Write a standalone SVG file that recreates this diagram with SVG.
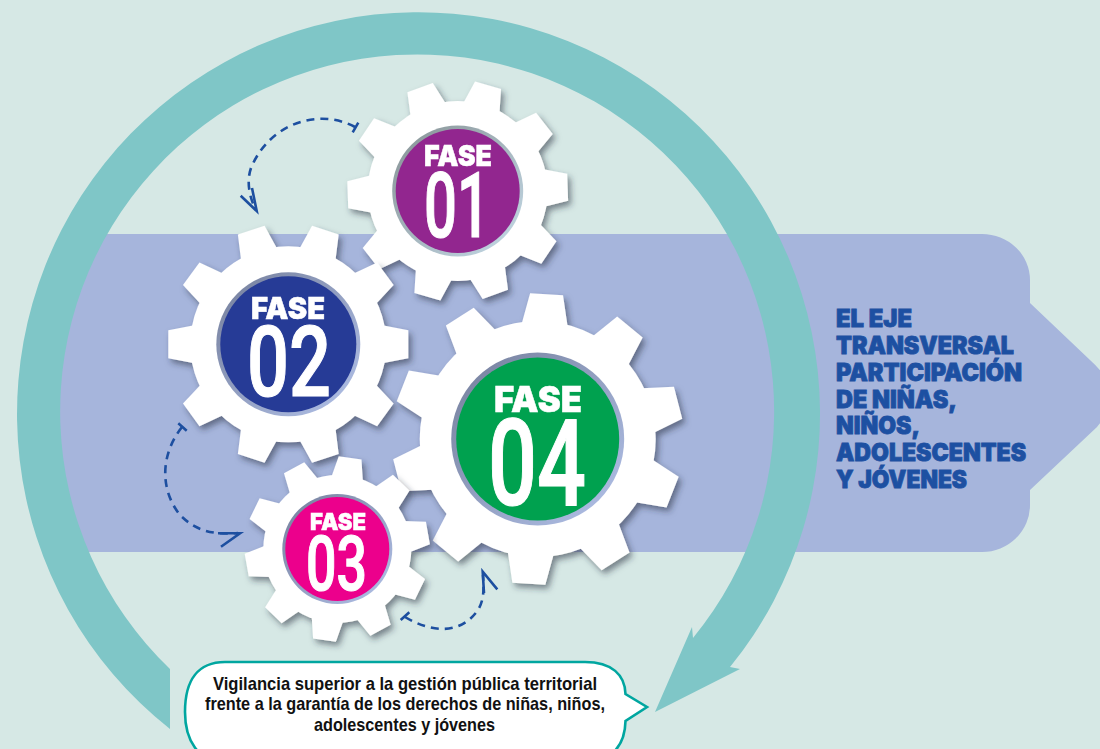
<svg xmlns="http://www.w3.org/2000/svg" width="1100" height="749" viewBox="0 0 1100 749">
<style>
.gear{fill:#fff}
.fase{font-family:Inter,"Liberation Sans",sans-serif;font-weight:900;fill:#fff;stroke:#fff;stroke-width:.5}
.num{font-family:Roboto,"Liberation Sans",sans-serif;font-weight:500;fill:#fff;stroke:#fff;stroke-width:1.2}
.eje{font-family:Inter,"Liberation Sans",sans-serif;font-weight:900;font-size:24px;fill:#1d50a2;stroke:#1d50a2;stroke-width:.8}
.call{font-family:"Liberation Sans",Arial,sans-serif;font-weight:700;font-size:18.5px;fill:#111}
.dash{fill:none;stroke:#1d4fa0;stroke-width:2.6;stroke-dasharray:8 6}
.solid{fill:none;stroke:#1d4fa0;stroke-width:2.6}
</style>
<defs>
<filter id="sh" x="-15%" y="-15%" width="135%" height="135%"><feDropShadow dx="3" dy="4" stdDeviation="3" flood-color="#2a3040" flood-opacity=".55"/></filter>
<linearGradient id="ringA" x1="0" y1="0" x2="1" y2="1"><stop offset="0.15" stop-color="#8f9ca0"/><stop offset="0.85" stop-color="#bcd0dc"/></linearGradient>
<linearGradient id="ringB" x1="0" y1="0" x2="1" y2="1"><stop offset="0.15" stop-color="#7d88a6"/><stop offset="0.85" stop-color="#a9b8de"/></linearGradient>
<path id="t1" class="gear" d="M-19 -85 L-13.5 -110 H13.5 L19 -85Z"/>
<path id="t2" class="gear" d="M-19 -94 L-14 -120 H14 L19 -94Z"/>
<path id="t3" class="gear" d="M-16 -70 L-11.5 -92 H11.5 L16 -70Z"/>
<path id="t4" class="gear" d="M-23 -114 L-16.5 -145 H16.5 L23 -114Z"/>
</defs>
<rect width="1100" height="749" fill="#d6e8e5"/>
<path id="band" fill="#a6b5dc" d="M62 234H982A48 46 0 0 1 1030 280V303L1090 360Q1110 378 1112 395Q1110 412 1097 427L1030 490V505A48 47 0 0 1 982 552H62L56 400Z"/>
<path id="ring" fill="#7fc6c7" d="M170 729A401.500 401.500 0 1 1 730 667L740 669L655 712L692 627L693 638A357 357 0 1 0 170 669Z"/>
<g id="connectors">
<path class="dash" d="M355 127C320 108 270 122 251 168C246 182 250 198 255 208"/>
<path class="solid" d="M352.7 132.3L358.3 122.7M240.7 195.7L256.7 211L252 188"/>
<path class="dash" d="M182 427C160 455 160 490 180 515C195 530 210 535 238 533"/>
<path class="solid" d="M178.3 423.3L186.700 430.700M218 533.3H240L221 546.7"/>
<path class="dash" d="M405 617C430 632 460 636 478 610C484 600 484 590 483 575"/>
<path class="solid" d="M400.700 620L409.300 612.300M484 593L482.700 571.700L497.300 589.300"/>
</g>
<g id="fase04" filter="url(#sh)">
<g transform="translate(537.7 439)"><circle class="gear" r="118"/>
<use href="#t4" transform="rotate(3.5)"/><use href="#t4" transform="rotate(39.5)"/><use href="#t4" transform="rotate(75.5)"/><use href="#t4" transform="rotate(111.5)"/><use href="#t4" transform="rotate(147.5)"/><use href="#t4" transform="rotate(183.5)"/><use href="#t4" transform="rotate(219.5)"/><use href="#t4" transform="rotate(255.5)"/><use href="#t4" transform="rotate(291.5)"/><use href="#t4" transform="rotate(327.5)"/>
<circle r="86.5" fill="url(#ringB)"/><circle r="81.5" fill="#00a14f"/></g>
<text class="fase" x="494" y="412" font-size="36" textLength="88" lengthAdjust="spacingAndGlyphs">FASE</text>
<text class="num" x="488" y="505" font-size="120" textLength="98" lengthAdjust="spacingAndGlyphs">04</text>
</g>
<g id="fase01" filter="url(#sh)">
<g transform="translate(457.7 191)"><circle class="gear" r="90"/>
<use href="#t1" transform="rotate(16)"/><use href="#t1" transform="rotate(52)"/><use href="#t1" transform="rotate(88)"/><use href="#t1" transform="rotate(124)"/><use href="#t1" transform="rotate(160)"/><use href="#t1" transform="rotate(196)"/><use href="#t1" transform="rotate(232)"/><use href="#t1" transform="rotate(268)"/><use href="#t1" transform="rotate(304)"/><use href="#t1" transform="rotate(340)"/>
<circle r="65.5" fill="url(#ringA)"/><circle r="62" fill="#92278f"/></g>
<text class="fase" x="424" y="166" font-size="29" textLength="68" lengthAdjust="spacingAndGlyphs">FASE</text>
<text class="num" x="424" y="237" font-size="91" textLength="66" lengthAdjust="spacingAndGlyphs">01</text>
</g>
<g id="fase02" filter="url(#sh)">
<g transform="translate(288.3 344.3)"><circle class="gear" r="98"/>
<use href="#t2" transform="rotate(18)"/><use href="#t2" transform="rotate(54)"/><use href="#t2" transform="rotate(90)"/><use href="#t2" transform="rotate(126)"/><use href="#t2" transform="rotate(162)"/><use href="#t2" transform="rotate(198)"/><use href="#t2" transform="rotate(234)"/><use href="#t2" transform="rotate(270)"/><use href="#t2" transform="rotate(306)"/><use href="#t2" transform="rotate(342)"/>
<circle r="72" fill="url(#ringB)"/><circle r="68" fill="#263a96"/></g>
<text class="fase" x="251" y="319" font-size="30" textLength="74" lengthAdjust="spacingAndGlyphs">FASE</text>
<text class="num" x="247" y="396" font-size="99" textLength="84" lengthAdjust="spacingAndGlyphs">02</text>
</g>
<g id="fase03" filter="url(#sh)">
<g transform="translate(337.3 549)"><circle class="gear" r="74"/>
<use href="#t3" transform="rotate(8)"/><use href="#t3" transform="rotate(44)"/><use href="#t3" transform="rotate(80)"/><use href="#t3" transform="rotate(116)"/><use href="#t3" transform="rotate(152)"/><use href="#t3" transform="rotate(188)"/><use href="#t3" transform="rotate(224)"/><use href="#t3" transform="rotate(260)"/><use href="#t3" transform="rotate(296)"/><use href="#t3" transform="rotate(332)"/>
<circle r="55" fill="url(#ringB)"/><circle r="52" fill="#ec008c"/></g>
<text class="fase" x="310" y="530" font-size="23" textLength="56" lengthAdjust="spacingAndGlyphs">FASE</text>
<text class="num" x="306" y="590" font-size="76" textLength="61" lengthAdjust="spacingAndGlyphs">03</text>
</g>
<g id="eje">
<text class="eje" x="836" y="327" textLength="76" lengthAdjust="spacingAndGlyphs">EL EJE</text>
<text class="eje" x="836" y="354" textLength="178" lengthAdjust="spacingAndGlyphs">TRANSVERSAL</text>
<text class="eje" x="836" y="381" textLength="186" lengthAdjust="spacingAndGlyphs">PARTICIPACIÓN</text>
<text class="eje" x="836" y="407.500" textLength="121" lengthAdjust="spacingAndGlyphs">DE NIÑAS,</text>
<text class="eje" x="836" y="434" textLength="84" lengthAdjust="spacingAndGlyphs">NIÑOS,</text>
<text class="eje" x="836" y="461" textLength="190" lengthAdjust="spacingAndGlyphs">ADOLESCENTES</text>
<text class="eje" x="836" y="488" textLength="131" lengthAdjust="spacingAndGlyphs">Y JÓVENES</text>
</g>
<g id="callout">
<path fill="#fff" stroke="#00a6a0" stroke-width="2.6" d="M185 712C185 680 198 662 225 662H585C612 662 625 675 625.500 694L647 707L625.500 721C625 745 612 762 585 762H225C198 762 185 740 185 712Z"/>
<text class="call" x="213" y="690" textLength="384" lengthAdjust="spacingAndGlyphs">Vigilancia superior a la gestión pública territorial</text>
<text class="call" x="205" y="710" textLength="400" lengthAdjust="spacingAndGlyphs">frente a la garantía de los derechos de niñas, niños,</text>
<text class="call" x="314" y="731" textLength="181" lengthAdjust="spacingAndGlyphs">adolescentes y jóvenes</text>
</g>
</svg>
